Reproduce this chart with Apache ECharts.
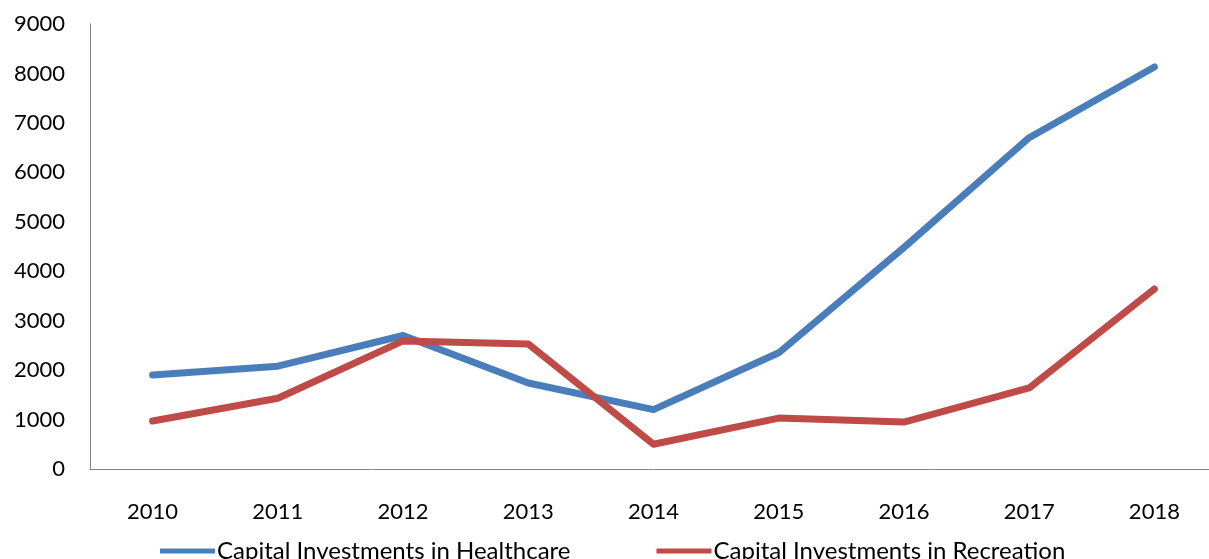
<!DOCTYPE html>
<html><head><meta charset="utf-8">
<script src="https://cdn.jsdelivr.net/npm/echarts@6/dist/echarts.min.js"></script>
<style>html,body{margin:0;padding:0;background:#fff;overflow:hidden;width:1209px;height:559px}#c{width:1217px;height:559px}</style>
</head><body><div id="c"></div>
<script>
const years = ['2010','2011','2012','2013','2014','2015','2016','2017','2018'];
const healthcare = [1900, 2080, 2700, 1740, 1200, 2350, 4480, 6700, 8130];
const recreation = [970, 1430, 2590, 2530, 500, 1030, 950, 1640, 3640];
const seriesNames = ['Capital Investments in Healthcare', 'Capital Investments in Recreation'];
const font = 'Lato, "Open Sans", sans-serif';
const chart = echarts.init(document.getElementById('c'));
chart.setOption({
  animation: false,
  backgroundColor: '#fff',
  grid: {left: 90, top: 24, bottom: 90, right: 0, containLabel: false},
  legend: {
    data: seriesNames, bottom: -9, left: 155, itemWidth: 55, itemHeight: 5, itemGap: 86,
    icon: 'rect',
    textStyle: {fontFamily: font, fontSize: 24, color: '#000', padding: [0,0,0,-3]}
  },
  xAxis: {
    type: 'category', data: years, boundaryGap: true,
    axisLine: {lineStyle: {color: '#868686', width: 1}},
    axisTick: {show: false},
    axisLabel: {fontFamily: font, fontSize: 22, color: '#000', margin: 32}
  },
  yAxis: {
    type: 'value', min: 0, max: 9000, interval: 1000,
    axisLine: {show: true, lineStyle: {color: '#868686', width: 1}},
    axisTick: {show: false},
    splitLine: {show: false},
    axisLabel: {fontFamily: font, fontSize: 22, color: '#000', margin: 25, formatter: v => String(v)}
  },
  series: [
    {name: seriesNames[0], type: 'line', data: healthcare, symbol: 'none', color: '#4a7ebb',
     lineStyle: {width: 7, color: '#4a7ebb', cap: 'round', join: 'round'}},
    {name: seriesNames[1], type: 'line', data: recreation, symbol: 'none', color: '#be4b48',
     lineStyle: {width: 7, color: '#be4b48', cap: 'round', join: 'round'}}
  ]
});
</script></body></html>
